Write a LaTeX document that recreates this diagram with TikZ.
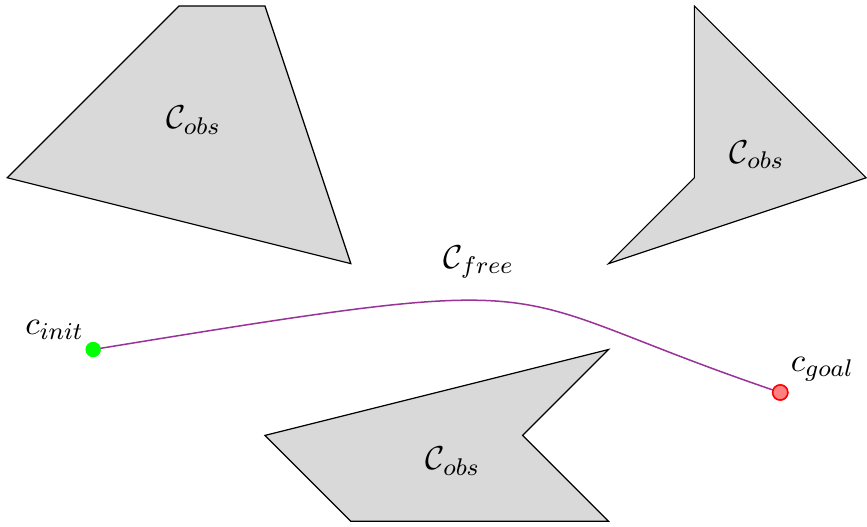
\documentclass[tikz,border=0pt]{standalone}
\tikzset{
  obstacle/.style={draw=black, fill=black!15, line join=miter},
  region/.style={font=\fontsize{11}{13}\selectfont},
  pathline/.style={draw=violet!80, line width=0.5pt},
  startpt/.style={circle, fill=green, inner sep=0pt, minimum size=5pt},
  goalpt/.style={circle, fill=red!50, draw=red, line width=0.5pt, inner sep=0pt, minimum size=5pt},
}
\begin{document}
\begin{tikzpicture}
  \useasboundingbox (-0.085,-0.06) rectangle (10.01,6.07);

  % obstacles
  \draw[obstacle] (2,6) -- (3,6) -- (4,3) -- (0,4) -- cycle;
  \draw[obstacle] (8,6) -- (10,4) -- (7,3) -- (8,4) -- cycle;
  \draw[obstacle] (7,2) -- (6,1) -- (7,0) -- (4,0) -- (3,1) -- cycle;

  \node[region] (obsA) at (2.17,4.67) {$\mathcal{C}_{obs}$};
  \node[region] (obsB) at (8.73,4.27) {$\mathcal{C}_{obs}$};
  \node[region] (obsC) at (5.19,0.70) {$\mathcal{C}_{obs}$};
  \node[region] (free) at (5.49,3.02) {$\mathcal{C}_{free}$};

  % start and goal configurations
  \node[startpt] (init) at (1,2) {};
  \node[goalpt] (goal) at (9,1.5) {};
  \node[region] (initlbl) at (0.55,2.23) {$c_{init}$};
  \node[region] (goallbl) at (9.49,1.77) {$c_{goal}$};

  % path through free space
  \draw[pathline] (init.center) .. controls (6.8,2.95) and (5.5,2.68) .. (goal.center);
  \node[startpt] at (init) {};
  \node[goalpt] at (goal) {};
\end{tikzpicture}
\end{document}
